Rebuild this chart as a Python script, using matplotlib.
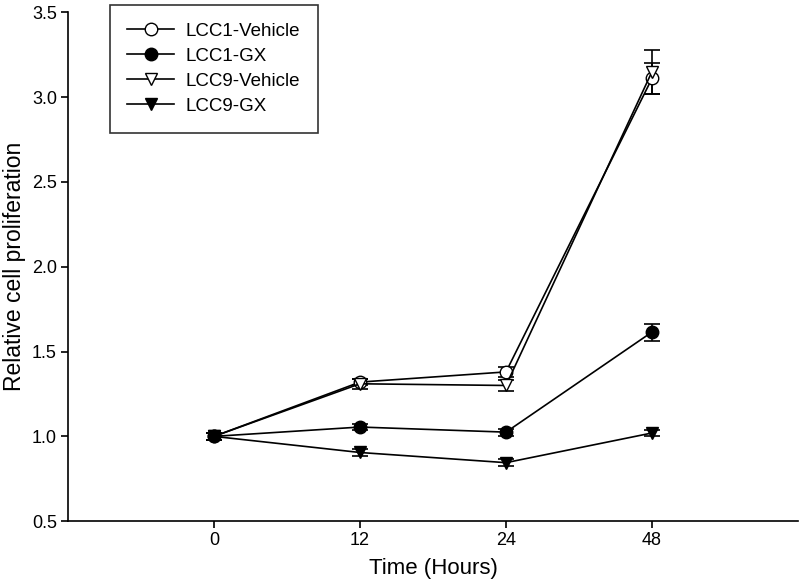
import matplotlib
matplotlib.use('Agg')
import matplotlib.pyplot as plt

plt.rcParams['font.family'] = ['Liberation Sans', 'DejaVu Sans']

hours = ['0', '12', '24', '48']

lcc1_vehicle = [1.00, 1.32, 1.38, 3.11]
lcc1_vehicle_err = [0.02, 0.02, 0.03, 0.09]
lcc1_gx = [1.00, 1.055, 1.025, 1.615]
lcc1_gx_err = [0.02, 0.02, 0.02, 0.05]
lcc9_vehicle = [1.00, 1.31, 1.30, 3.15]
lcc9_vehicle_err = [0.02, 0.03, 0.03, 0.13]
lcc9_gx = [1.00, 0.905, 0.845, 1.02]
lcc9_gx_err = [0.02, 0.02, 0.02, 0.02]

series = [
    ('LCC1-Vehicle', lcc1_vehicle, lcc1_vehicle_err, 'o', 'white'),
    ('LCC1-GX', lcc1_gx, lcc1_gx_err, 'o', 'black'),
    ('LCC9-Vehicle', lcc9_vehicle, lcc9_vehicle_err, 'v', 'white'),
    ('LCC9-GX', lcc9_gx, lcc9_gx_err, 'v', 'black'),
]

fig = plt.figure(figsize=(8, 5.83), dpi=100)
ax = fig.add_axes([0.085, 0.106, 0.9125, 0.873])

x = list(range(1, len(hours) + 1))
for label, vals, errs, marker, face in series:
    # error bars drawn separately so the legend only shows line + marker
    ax.errorbar(x, vals, yerr=errs, fmt='none', ecolor='black',
                elinewidth=1.2, capsize=6, capthick=1.2, zorder=2)
    ax.plot(x, vals, '-', marker=marker, color='black',
            markerfacecolor=face, markeredgecolor='black', markersize=9,
            linewidth=1.2, label=label, zorder=3)

ax.set_xlim(0, 5)
ax.set_ylim(0.5, 3.5)
ax.set_xticks(x)
ax.set_xticklabels(hours)
ax.set_yticks([0.5, 1.0, 1.5, 2.0, 2.5, 3.0, 3.5])
ax.set_yticklabels(['0.5', '1.0', '1.5', '2.0', '2.5', '3.0', '3.5'])
ax.tick_params(labelsize=13, length=5, width=1.2, direction='out', pad=3)
for s in ['top', 'right']:
    ax.spines[s].set_visible(False)
for s in ['left', 'bottom']:
    ax.spines[s].set_linewidth(1.2)

ax.set_xlabel('Time (Hours)', fontsize=16, labelpad=6)
ax.set_ylabel('Relative cell proliferation', fontsize=16.5, labelpad=4)

leg = ax.legend(loc='upper left', bbox_to_anchor=(0.057, 1.014), fontsize=13.5,
                frameon=True, fancybox=False, edgecolor='black',
                handlelength=2.5, handletextpad=0.6, borderpad=0.95,
                labelspacing=0.42, borderaxespad=0)
leg.get_frame().set_linewidth(1.2)

fig.savefig('out.png', dpi=100)
